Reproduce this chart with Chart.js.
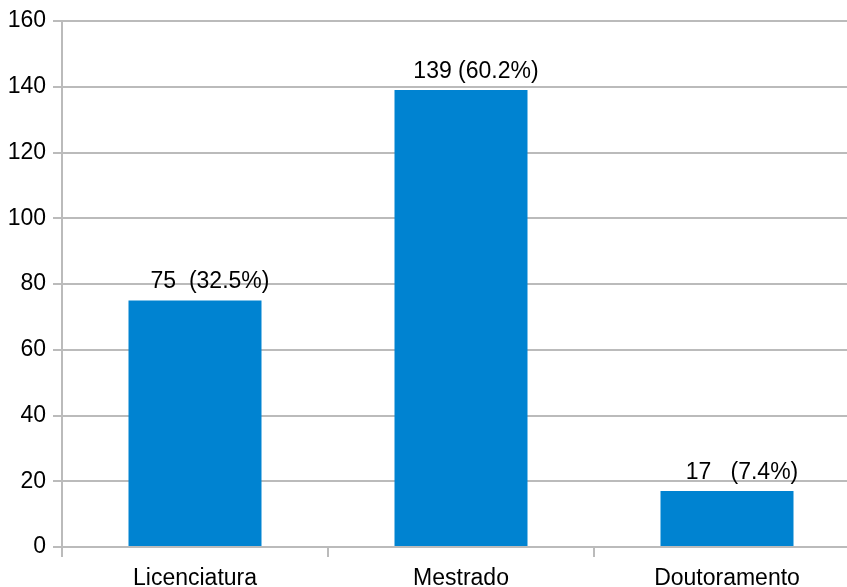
<!DOCTYPE html>
<html>
<head>
<meta charset="utf-8">
<script src="https://cdn.jsdelivr.net/npm/chart.js@4"></script>
<style>
  html, body { margin: 0; padding: 0; background: #fff; overflow: hidden; }
  #wrap { width: 880px; height: 587px; }
</style>
</head>
<body>
<div id="wrap"><canvas id="grafico" width="880" height="587"></canvas></div>
<script>
const categorias = ['Licenciatura', 'Mestrado', 'Doutoramento'];
const valores = [75, 139, 17];
const rotulos = ['75  (32.5%)', '139 (60.2%)', '17   (7.4%)'];
const yTicks = [0, 20, 40, 60, 80, 100, 120, 140, 160];

const cinza = '#bbbbbb';
const fonte = { family: 'Liberation Sans, Arial, sans-serif', size: 23 };

const rotulosPlugin = {
    id: 'rotulos',
    afterDatasetsDraw(chart) {
        const ctx = chart.ctx;
        const meta = chart.getDatasetMeta(0);
        ctx.save();
        ctx.font = '23px Liberation Sans, Arial, sans-serif';
        ctx.fillStyle = '#000';
        ctx.textAlign = 'center';
        ctx.textBaseline = 'alphabetic';
        meta.data.forEach((bar, i) => {
            ctx.fillText(rotulos[i], bar.x + 15, bar.y - 12);
        });
        ctx.restore();
    }
};

const ctx = document.getElementById('grafico').getContext('2d');
new Chart(ctx, {
    type: 'bar',
    data: {
        labels: categorias,
        datasets: [{
            data: valores,
            backgroundColor: '#0083d1',
            categoryPercentage: 1,
            barPercentage: 0.5
        }]
    },
    options: {
        responsive: false,
        animation: false,
        layout: { padding: { top: 21, right: 20, left: 0, bottom: 0 } },
        plugins: {
            legend: { display: false },
            tooltip: { enabled: false }
        },
        scales: {
            x: {
                offset: true,
                grid: {
                    offset: true,
                    drawOnChartArea: false,
                    color: cinza,
                    lineWidth: 2,
                    tickLength: 10
                },
                border: { color: cinza, width: 2 },
                ticks: { color: '#000', font: fonte, padding: 8, maxRotation: 0 },
                afterFit: s => { s.height = 40; }
            },
            y: {
                min: 0,
                max: 160,
                afterBuildTicks: s => { s.ticks = yTicks.map(v => ({ value: v })); },
                grid: { color: cinza, lineWidth: 2, tickLength: 9 },
                border: { color: cinza, width: 2 },
                ticks: { color: '#000', font: fonte, padding: 7 },
                afterFit: s => { s.width = 62; }
            }
        }
    },
    plugins: [rotulosPlugin]
});
</script>
</body>
</html>
